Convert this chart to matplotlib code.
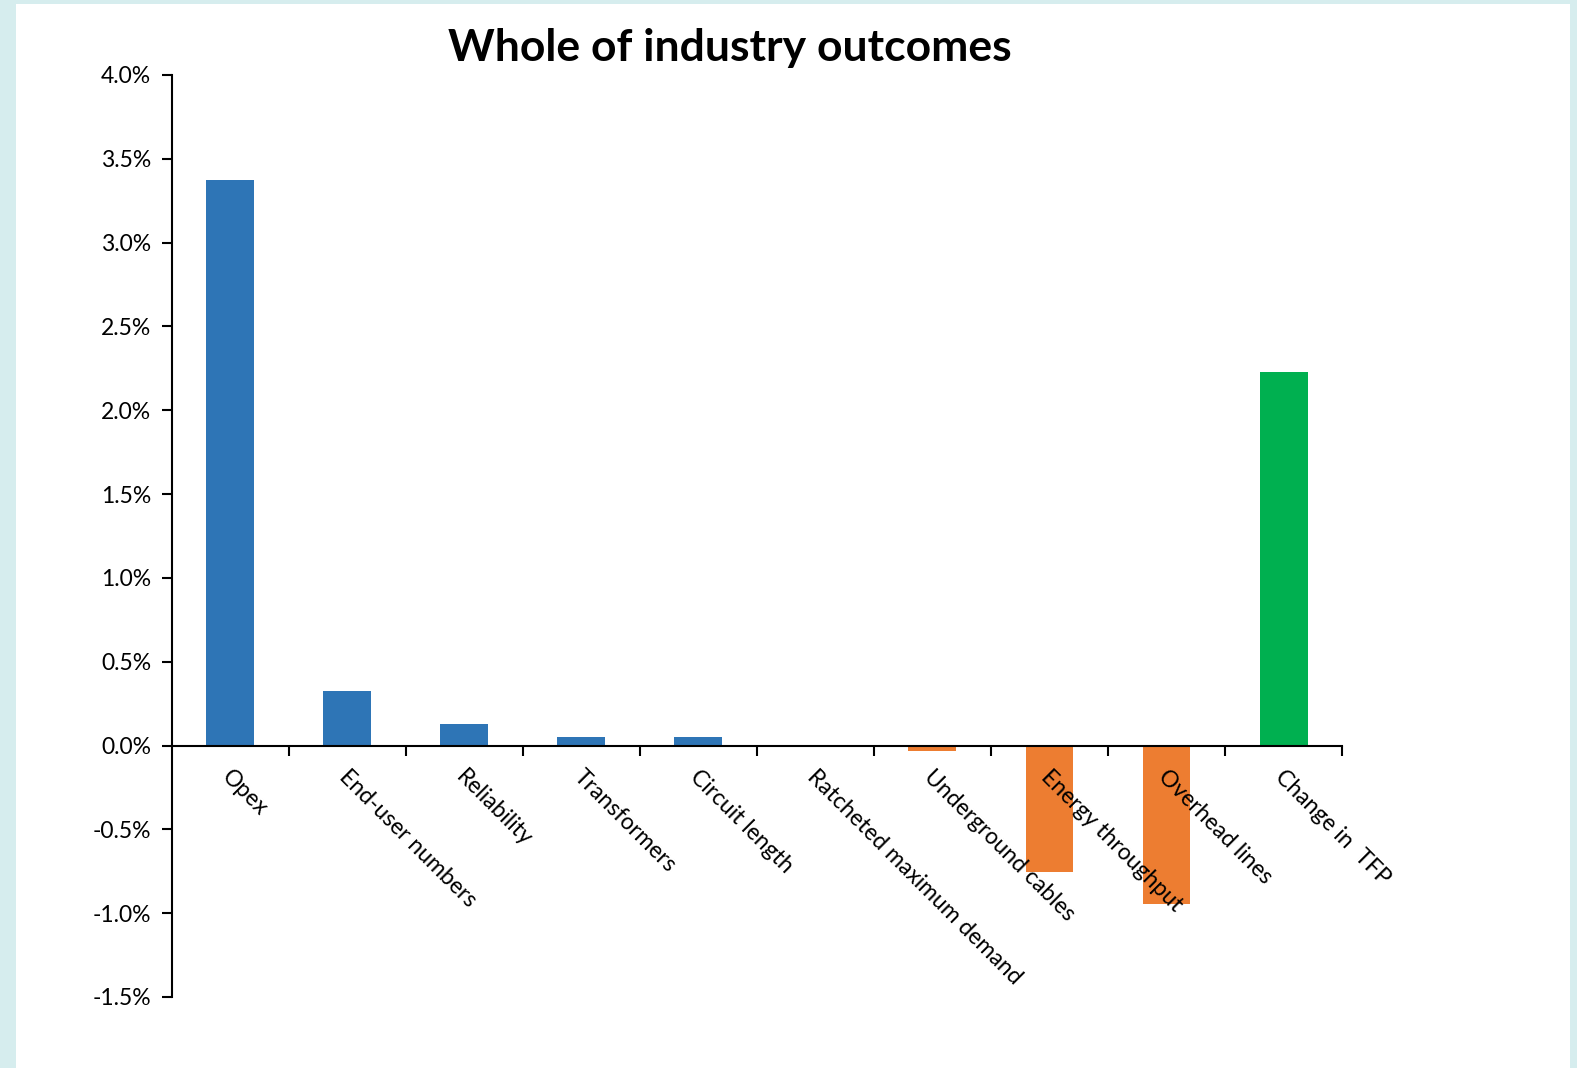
import numpy as np
import matplotlib
matplotlib.use("Agg")
import matplotlib.pyplot as plt
from matplotlib.patches import Rectangle
from matplotlib.ticker import FuncFormatter

plt.rcParams['font.family'] = ['Lato', 'DejaVu Sans']

categories = ["Opex", "End-user numbers", "Reliability", "Transformers",
              "Circuit length", "Ratcheted maximum demand", "Underground cables",
              "Energy throughput", "Overhead lines", "Change in  TFP"]
values = [3.375, 0.325, 0.128, 0.05, 0.05, 0.002, -0.03, -0.755, -0.945, 2.23]
colors = ["#2E75B6"] * 6 + ["#ED7D31"] * 3 + ["#00B050"]

fig = plt.figure(figsize=(15.77, 10.68), dpi=100)
fig.patch.set_facecolor("#D6EDEE")
fig.patches.append(Rectangle((16 / 1577, 0), 1554 / 1577, 1064 / 1068,
                             transform=fig.transFigure, facecolor="white",
                             edgecolor="none", zorder=-10))

ax = fig.add_axes([0.109, 0.0665, 0.742, 0.8633])
ax.set_facecolor("none")

x = np.arange(len(categories))
ax.bar(x, values, width=0.41, color=colors, zorder=2)

ax.set_xlim(-0.5, len(categories) - 0.5)
ax.set_ylim(-1.5, 4.0)
ax.set_yticks(np.arange(-1.5, 4.01, 0.5))
ax.yaxis.set_major_formatter(FuncFormatter(lambda v, p: f"{v:.1f}%"))

for s in ["top", "right"]:
    ax.spines[s].set_visible(False)
ax.spines["bottom"].set_position(("data", 0))
ax.spines["bottom"].set_zorder(3)
ax.spines["left"].set_linewidth(1.5)
ax.spines["bottom"].set_linewidth(1.5)

ax.set_xticks(x)
ax.set_xticklabels([])
ax.set_xticks(np.arange(0.5, len(categories), 1.0), minor=True)
ax.tick_params(axis="x", which="major", length=0)
ax.tick_params(axis="x", which="minor", direction="out", length=7, width=1.5)
ax.tick_params(axis="y", direction="out", length=7, width=1.5, labelsize=16.5, pad=8)

for xi, lab in zip(x, categories):
    ax.annotate(lab, xy=(xi, 0), xycoords="data", xytext=(2, -15),
                textcoords="offset points", rotation=-45, ha="left", va="top",
                rotation_mode="anchor", fontsize=16.5)

fig.text(0.463, 0.955, "Whole of industry outcomes", ha="center", va="center",
         fontsize=32, fontweight="bold")

fig.savefig("out.png", dpi=100, facecolor=fig.get_facecolor())
